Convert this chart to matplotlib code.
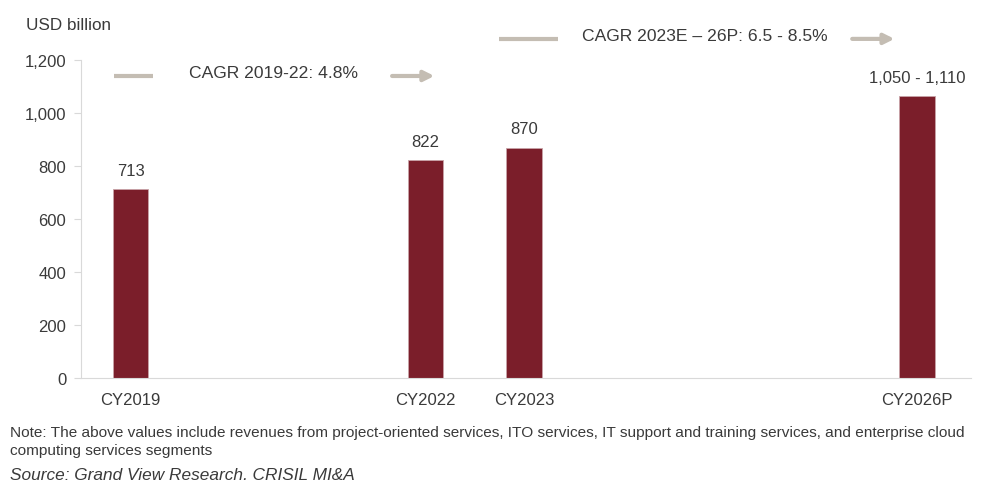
import matplotlib
matplotlib.use("Agg")
import matplotlib.pyplot as plt

# ---- data ----
years = ["CY2019", "CY2022", "CY2023", "CY2026P"]
slots = [0, 3, 4, 8]            # category slots (gaps for years not shown)
values = [713, 822, 870, 1065]
value_labels = ["713", "822", "870", "1,050 - 1,110"]

cagr_texts = ["CAGR 2019-22: 4.8%", "CAGR 2023E \u2013 26P: 6.5 - 8.5%"]
cagr_text_x = [1.45, 5.84]
cagr_bars = [(-0.17, 0.23), (3.75, 4.35)]     # plain lead-in bar
cagr_arrows = [(2.66, 3.09), (7.34, 7.77)]    # arrow tail -> head
cagr_levels = [1140, 1280]

BAR = "#7B1E2A"
GREY = "#C4BDB3"
TXT = "#3a3a3a"

plt.rcParams["font.family"] = ["Liberation Sans", "DejaVu Sans"]

fig = plt.figure(figsize=(9.81, 4.81), dpi=100)
ax = fig.add_axes([0.083, 0.212, 0.907, 0.661])

ax.bar(slots, values, width=0.36, color=BAR, edgecolor="#c9a3a8", linewidth=0.6)
for x, v, lab in zip(slots, values, value_labels):
    ax.annotate(lab, (x, v), xytext=(0, 8), textcoords="offset points",
                ha="center", va="bottom", fontsize=12, color=TXT)

ax.set_xlim(-0.5, 8.55)
ax.set_ylim(0, 1200)
ax.set_yticks(range(0, 1201, 200))
ax.set_yticklabels([f"{v:,}" for v in range(0, 1201, 200)])
ax.set_xticks(slots)
ax.set_xticklabels(years)

for s in ["top", "right"]:
    ax.spines[s].set_visible(False)
for s in ["left", "bottom"]:
    ax.spines[s].set_color("#d9d9d9")
ax.tick_params(axis="y", colors="#d9d9d9", labelcolor=TXT, labelsize=12, length=5, pad=6)
ax.tick_params(axis="x", length=0, labelcolor=TXT, labelsize=12, pad=10)

# CAGR call-outs: plain bar, text, arrow
for txt, tx, (b0, b1), (a0, a1), y in zip(cagr_texts, cagr_text_x, cagr_bars,
                                         cagr_arrows, cagr_levels):
    ax.plot([b0, b1], [y, y], color=GREY, lw=3, solid_capstyle="butt", clip_on=False)
    ax.annotate("", xy=(a1, y), xytext=(a0, y),
                arrowprops=dict(arrowstyle="-|>,head_length=0.6,head_width=0.3",
                                color=GREY, lw=3, shrinkA=0, shrinkB=0),
                annotation_clip=False)
    ax.text(tx, y + 12, txt, ha="center", va="center",
            fontsize=12.6, color=TXT, clip_on=False)

fig.text(0.026, 0.948, "USD billion", fontsize=12.3, color=TXT, va="center")
fig.text(0.010, 0.100,
         "Note: The above values include revenues from project-oriented services, ITO services, "
         "IT support and training services, and enterprise cloud", fontsize=11.1, color=TXT, va="center")
fig.text(0.010, 0.063, "computing services segments", fontsize=11.1, color=TXT, va="center")
fig.text(0.010, 0.012, "Source: Grand View Research, CRISIL MI&A", fontsize=12.4,
         style="italic", color=TXT, va="center")

fig.savefig("out.png", dpi=100)
